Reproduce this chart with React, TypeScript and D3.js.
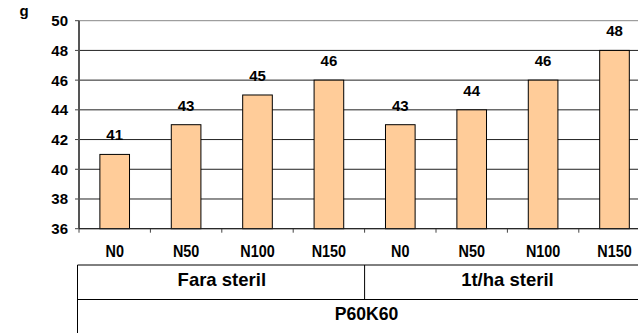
import * as d3 from "d3";
import React from "react";

const doses = ["N0", "N50", "N100", "N150", "N0", "N50", "N100", "N150"]
const values = [41, 43, 45, 46, 43, 44, 46, 48]
const groups = ["Fara steril", "1t/ha steril"]
const mainGroup = "P60K60"
const yTicks = [36, 38, 40, 42, 44, 46, 48, 50]

const W = 638
const H = 333
const left = 79
const bandW = 71.4
const top = 20.7
const bottom = 228.7

type LabelT = { x: number, y: number, size: number, sx?: number, children: React.ReactNode, anchor?: string }

function Label({ x, y, size, sx = 1, children, anchor = "middle" }: LabelT) {
  return (
    <text transform={`translate(${x},${y}) scale(${sx},1)`} fontSize={size} textAnchor={anchor}>{children}</text>
  )
}

export function App() {
  const x = d3.scaleBand<number>()
    .domain(d3.range(doses.length))
    .range([left, left + bandW * doses.length])
    .paddingInner(0.585)
    .paddingOuter(0.2925)
  const y = d3.scaleLinear().domain([36, 50]).range([bottom, top])
  const font = "Arial, 'Liberation Sans', sans-serif"
  const rowTop = 265
  const rowMid = 299.5
  const groupX = (i: number) => left + i * bandW * 4
  const right = left + bandW * doses.length

  return (
    <div style={{ position: "absolute", left: 0, top: 0 }}>
      <svg width={W} height={H} style={{ display: "block", background: "#fff" }} fontFamily={font} fontWeight="bold">
        <Label x={24} y={16} size={15}>g</Label>
        {yTicks.map(t => (
          <g key={t}>
            <line x1={left} x2={W} y1={y(t)} y2={y(t)} stroke={t === 50 ? "#888" : "#222"} strokeWidth={1} />
            <line x1={left - 4} x2={left} y1={y(t)} y2={y(t)} stroke="#444" />
            <Label x={68} y={y(t) + 5.5} size={15} anchor="end">{t}</Label>
          </g>
        ))}
        {values.map((v, i) => (
          <g key={i}>
            <rect x={x(i)} y={y(v)} width={x.bandwidth()} height={bottom - y(v)} fill="#FFCC99" stroke="#000" strokeWidth={1} />
            <Label x={x(i)! + x.bandwidth() / 2} y={y(v) - 14} size={15}>{v}</Label>
          </g>
        ))}
        {d3.range(doses.length + 1).map(i => (
          <line key={i} x1={left + i * bandW} x2={left + i * bandW} y1={bottom} y2={bottom + 4} stroke="#444" />
        ))}
        <line x1={left} x2={left} y1={top} y2={bottom} stroke="#555" strokeWidth={2} />
        <line x1={left} x2={W} y1={bottom} y2={bottom} stroke="#222" strokeWidth={1} />
        {doses.map((d, i) => (
          <Label key={i} x={x(i)! + x.bandwidth() / 2} y={257} size={16} sx={0.9}>{d}</Label>
        ))}
        <line x1={left - 1.5} x2={W} y1={rowTop} y2={rowTop} stroke="#000" />
        <line x1={left - 1.5} x2={W} y1={rowMid} y2={rowMid} stroke="#000" />
        <line x1={left - 1.5} x2={left - 1.5} y1={rowTop} y2={H} stroke="#000" />
        <line x1={groupX(1)} x2={groupX(1)} y1={rowTop} y2={rowMid} stroke="#000" />
        {groups.map((g, i) => (
          <Label key={g} x={(groupX(i) + Math.min(groupX(i + 1), right)) / 2} y={285.5} size={18.5}>{g}</Label>
        ))}
        <Label x={(left + right) / 2 + 2} y={320} size={17.6}>{mainGroup}</Label>
      </svg>
    </div>
  );
}

export default App;
